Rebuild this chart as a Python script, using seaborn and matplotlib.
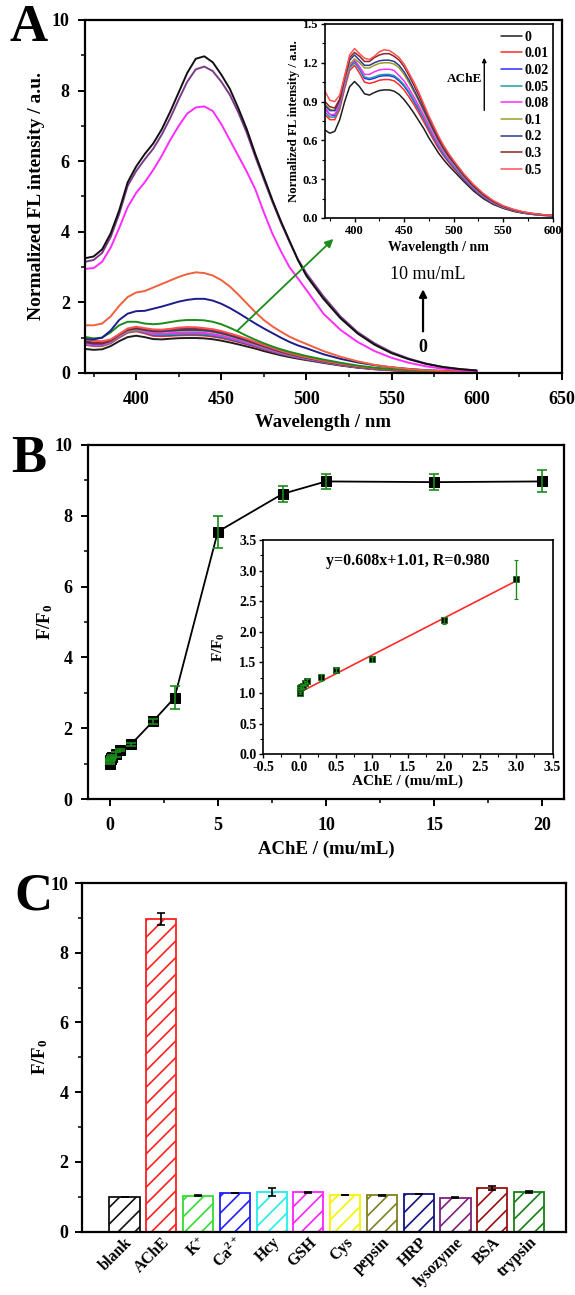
import numpy as np
import pandas as pd
import matplotlib
matplotlib.use('Agg')
import matplotlib.pyplot as plt
import seaborn as sns
from matplotlib.ticker import MultipleLocator, FormatStrFormatter

# ---------------- data ----------------
# Panel A: emission spectra
wavelength = [370, 375, 380, 385, 390, 395, 400, 405, 410, 415, 420, 425, 430, 435, 440, 445,
              450, 455, 460, 465, 470, 475, 480, 485, 490, 495, 500, 510, 520, 530, 540, 550,
              560, 570, 580, 590, 600]

spec_0 = [0.68, 0.655, 0.67, 0.76, 0.90, 1.015, 1.055, 1.015, 0.96, 0.95, 0.97, 0.985, 0.99, 0.99, 0.98, 0.955,
          0.915, 0.865, 0.81, 0.75, 0.69, 0.62, 0.56, 0.5, 0.45, 0.405, 0.365, 0.285, 0.21, 0.15, 0.105, 0.075,
          0.052, 0.037, 0.027, 0.02, 0.016]
spec_001 = [0.80, 0.76, 0.76, 0.84, 1.0, 1.14, 1.18, 1.12, 1.05, 1.04, 1.05, 1.065, 1.07, 1.07, 1.06, 1.03,
            0.99, 0.935, 0.875, 0.81, 0.74, 0.67, 0.6, 0.535, 0.48, 0.43, 0.385, 0.3, 0.222, 0.16, 0.112, 0.08,
            0.056, 0.04, 0.029, 0.021, 0.017]
spec_002 = [0.85, 0.8, 0.79, 0.87, 1.03, 1.17, 1.21, 1.15, 1.08, 1.07, 1.08, 1.095, 1.1, 1.1, 1.09, 1.06,
            1.02, 0.965, 0.9, 0.835, 0.765, 0.69, 0.62, 0.55, 0.49, 0.44, 0.395, 0.305, 0.226, 0.163, 0.115, 0.082,
            0.058, 0.041, 0.03, 0.022, 0.017]
spec_005 = [0.82, 0.78, 0.78, 0.86, 1.02, 1.16, 1.2, 1.15, 1.09, 1.08, 1.09, 1.105, 1.11, 1.11, 1.1, 1.07,
            1.03, 0.975, 0.91, 0.845, 0.77, 0.695, 0.625, 0.555, 0.495, 0.445, 0.4, 0.31, 0.23, 0.166, 0.117, 0.083,
            0.059, 0.042, 0.03, 0.022, 0.018]
spec_008 = [0.84, 0.8, 0.8, 0.88, 1.04, 1.18, 1.22, 1.17, 1.11, 1.11, 1.13, 1.145, 1.15, 1.15, 1.14, 1.1,
            1.06, 1.0, 0.935, 0.865, 0.79, 0.715, 0.64, 0.57, 0.51, 0.455, 0.41, 0.318, 0.236, 0.17, 0.12, 0.085,
            0.06, 0.043, 0.031, 0.023, 0.018]
spec_01 = [0.88, 0.84, 0.83, 0.9, 1.06, 1.19, 1.23, 1.2, 1.16, 1.16, 1.18, 1.195, 1.2, 1.2, 1.19, 1.16,
           1.11, 1.045, 0.975, 0.9, 0.82, 0.74, 0.665, 0.59, 0.525, 0.47, 0.42, 0.325, 0.242, 0.175, 0.124, 0.087,
           0.062, 0.044, 0.032, 0.024, 0.018]
spec_02 = [0.87, 0.83, 0.83, 0.91, 1.08, 1.22, 1.26, 1.22, 1.18, 1.18, 1.2, 1.215, 1.22, 1.22, 1.21, 1.18,
           1.13, 1.065, 0.99, 0.915, 0.835, 0.755, 0.675, 0.6, 0.535, 0.478, 0.428, 0.33, 0.246, 0.178, 0.126, 0.089,
           0.063, 0.045, 0.033, 0.024, 0.019]
spec_03 = [0.9, 0.86, 0.85, 0.92, 1.09, 1.24, 1.28, 1.25, 1.21, 1.21, 1.24, 1.26, 1.27, 1.27, 1.25, 1.22,
           1.17, 1.1, 1.025, 0.945, 0.86, 0.775, 0.695, 0.615, 0.548, 0.49, 0.437, 0.338, 0.252, 0.183, 0.13, 0.092,
           0.065, 0.046, 0.034, 0.025, 0.019]
spec_05 = [0.98, 0.91, 0.9, 0.95, 1.1, 1.26, 1.31, 1.27, 1.235, 1.225, 1.25, 1.285, 1.3, 1.295, 1.27, 1.24,
           1.19, 1.12, 1.05, 0.97, 0.88, 0.79, 0.71, 0.63, 0.56, 0.5, 0.445, 0.345, 0.26, 0.19, 0.135, 0.095,
           0.068, 0.048, 0.035, 0.026, 0.02]
spec_1 = [1.02, 0.98, 1.0, 1.15, 1.35, 1.45, 1.45, 1.4, 1.38, 1.4, 1.44, 1.48, 1.5, 1.5, 1.49, 1.45,
          1.38, 1.28, 1.17, 1.05, 0.94, 0.84, 0.75, 0.67, 0.6, 0.54, 0.48, 0.38, 0.29, 0.21, 0.15, 0.11,
          0.08, 0.055, 0.04, 0.03, 0.025]
spec_2 = [0.95, 0.95, 1.0, 1.2, 1.5, 1.68, 1.75, 1.76, 1.82, 1.88, 1.95, 2.02, 2.07, 2.1, 2.1, 2.05,
          1.96, 1.84, 1.7, 1.55, 1.4, 1.26, 1.13, 1.0, 0.88, 0.78, 0.7, 0.53, 0.4, 0.3, 0.22, 0.16,
          0.115, 0.08, 0.06, 0.045, 0.035]
spec_3 = [1.35, 1.35, 1.4, 1.6, 1.9, 2.15, 2.28, 2.32, 2.42, 2.52, 2.62, 2.72, 2.8, 2.85, 2.83, 2.76,
          2.63, 2.45, 2.22, 1.97, 1.72, 1.5, 1.32, 1.17, 1.03, 0.92, 0.82, 0.62, 0.46, 0.33, 0.23, 0.16,
          0.11, 0.075, 0.055, 0.04, 0.03]
spec_5 = [2.95, 2.97, 3.15, 3.55, 4.1, 4.7, 5.1, 5.4, 5.75, 6.15, 6.6, 7.0, 7.35, 7.52, 7.55, 7.42,
          7.05, 6.6, 6.15, 5.7, 5.2, 4.55, 3.95, 3.45, 3.0, 2.68, 2.35, 1.68, 1.22, 0.88, 0.62, 0.43,
          0.29, 0.19, 0.12, 0.08, 0.05]
spec_8 = [3.15, 3.2, 3.4, 3.85, 4.5, 5.3, 5.72, 6.05, 6.35, 6.75, 7.22, 7.75, 8.25, 8.6, 8.68, 8.55,
          8.25, 7.88, 7.38, 6.8, 6.12, 5.48, 4.85, 4.26, 3.72, 3.22, 2.82, 2.17, 1.6, 1.16, 0.84, 0.59,
          0.41, 0.27, 0.17, 0.11, 0.07]
spec_10 = [3.25, 3.3, 3.5, 3.95, 4.6, 5.4, 5.85, 6.2, 6.5, 6.9, 7.4, 7.95, 8.5, 8.9, 8.97, 8.8,
           8.45, 8.05, 7.5, 6.9, 6.2, 5.55, 4.9, 4.3, 3.75, 3.2, 2.75, 2.1, 1.55, 1.12, 0.8, 0.56,
           0.39, 0.26, 0.17, 0.11, 0.07]

low_labels = ['0', '0.01', '0.02', '0.05', '0.08', '0.1', '0.2', '0.3', '0.5']
high_labels = ['1', '2', '3', '5', '8', '10']
low_colors = ['#1e1e1e', '#ff2a2a', '#2b2bff', '#1c9c9c', '#ff2cff', '#9c9c2c', '#2e3a8e', '#8e2424', '#ff5252']
high_colors = ['#1a8c1a', '#1c1c8c', '#f0603c', '#ff2cff', '#7c3a8a', '#111111']

# Panel B: F/F0 vs AChE concentration
ache_conc = [0, 0.01, 0.02, 0.05, 0.08, 0.1, 0.3, 0.5, 1, 2, 3, 5, 8, 10, 15, 20]
ratio = [1.0, 1.08, 1.1, 1.12, 1.16, 1.2, 1.26, 1.38, 1.55, 2.19, 2.86, 7.55, 8.62, 8.97, 8.95, 8.97]
ratio_err = [0.02, 0.02, 0.03, 0.03, 0.03, 0.03, 0.06, 0.03, 0.04, 0.06, 0.32, 0.45, 0.23, 0.22, 0.23, 0.31]
fit_slope = 0.608
fit_intercept = 1.01

# Panel C: selectivity
species = ['blank', 'AChE', 'K$^{+}$', 'Ca$^{2+}$', 'Hcy', 'GSH', 'Cys', 'pepsin', 'HRP',
           'lysozyme', 'BSA', 'trypsin']
species_ratio = [1.0, 8.97, 1.03, 1.11, 1.14, 1.13, 1.05, 1.035, 1.07, 0.97, 1.25, 1.14]
species_err = [0.0, 0.17, 0.01, 0.01, 0.12, 0.01, 0.01, 0.005, 0.005, 0.01, 0.05, 0.02]
species_colors = ['#111111', '#ff2020', '#33dd33', '#2020ff', '#22eeee', '#ff22ff', '#f5f500',
                  '#808020', '#141480', '#802080', '#9a1010', '#168016']

# ---------------- style ----------------
sns.set_style('ticks')
plt.rcParams.update({
    'font.family': ['Liberation Serif', 'DejaVu Serif'],
    'font.weight': 'bold',
    'axes.labelweight': 'bold',
    'axes.edgecolor': 'black',
    'axes.labelcolor': 'black',
    'text.color': 'black',
    'xtick.color': 'black',
    'ytick.color': 'black',
    'axes.linewidth': 1.6,
    'xtick.major.width': 1.4, 'ytick.major.width': 1.4,
    'xtick.minor.width': 1.1, 'ytick.minor.width': 1.1,
    'xtick.major.size': 5, 'ytick.major.size': 5,
    'xtick.minor.size': 3, 'ytick.minor.size': 3,
    'xtick.direction': 'out', 'ytick.direction': 'out',
    'mathtext.fontset': 'custom',
    'mathtext.rm': 'Liberation Serif:bold',
    'mathtext.it': 'Liberation Serif:bold',
    'mathtext.bf': 'Liberation Serif:bold',
    'hatch.linewidth': 1.2,
})

fig = plt.figure(figsize=(5.75, 12.95), dpi=100)

# ---------------- Panel A ----------------
spectra = dict(zip(low_labels + high_labels,
                   [spec_0, spec_001, spec_002, spec_005, spec_008, spec_01, spec_02, spec_03, spec_05,
                    spec_1, spec_2, spec_3, spec_5, spec_8, spec_10]))
rows = []
for conc, vals in spectra.items():
    for w, v in zip(wavelength, vals):
        rows.append((w, v, conc))
spec_df = pd.DataFrame(rows, columns=['wl', 'I', 'conc'])

axA = fig.add_axes([0.148, 0.712, 0.829, 0.2726])
sns.lineplot(data=spec_df, x='wl', y='I', hue='conc', hue_order=low_labels + high_labels,
             palette=low_colors + high_colors, linewidth=1.4, errorbar=None, legend=False, ax=axA)
axA.set_xlim(370, 650)
axA.set_ylim(0, 10)
axA.xaxis.set_major_locator(MultipleLocator(50))
axA.xaxis.set_minor_locator(MultipleLocator(25))
axA.yaxis.set_major_locator(MultipleLocator(2))
axA.yaxis.set_minor_locator(MultipleLocator(1))
axA.tick_params(labelsize=13)
axA.tick_params(axis='x', pad=8)
axA.tick_params(axis='y', pad=6)
axA.set_xlabel('Wavelength / nm', fontsize=13.5, labelpad=4)
axA.set_ylabel('Normalized FL intensity / a.u.', fontsize=14, labelpad=5)
axA.annotate('', xy=(517, 3.85), xytext=(458, 1.13),
             arrowprops=dict(arrowstyle='-|>', color='#1a8c1a', lw=1.3, mutation_scale=12))
axA.annotate('', xy=(568.5, 2.45), xytext=(568.5, 1.1),
             arrowprops=dict(arrowstyle='-|>', color='black', lw=1.6, mutation_scale=11))
axA.text(571, 2.8, '10 mu/mL', ha='center', va='center', fontsize=13, fontweight='normal')
axA.text(568.5, 0.72, '0', ha='center', va='center', fontsize=13)

# inset of A
axI = fig.add_axes([0.565, 0.8317, 0.396, 0.1498])
sns.lineplot(data=spec_df[spec_df['conc'].isin(low_labels)], x='wl', y='I', hue='conc',
             hue_order=low_labels, palette=low_colors, linewidth=1.1, errorbar=None, ax=axI)
axI.set_xlim(370, 600)
axI.set_ylim(0, 1.5)
axI.xaxis.set_major_locator(MultipleLocator(50))
axI.xaxis.set_minor_locator(MultipleLocator(25))
axI.yaxis.set_major_locator(MultipleLocator(0.3))
axI.yaxis.set_minor_locator(MultipleLocator(0.15))
axI.yaxis.set_major_formatter(FormatStrFormatter('%.1f'))
axI.tick_params(labelsize=9, pad=2)
axI.tick_params(which='major', length=3, width=1.0)
axI.tick_params(which='minor', length=2, width=0.8)
for sp in axI.spines.values():
    sp.set_linewidth(1.2)
axI.set_xlabel('Wavelength / nm', fontsize=10, labelpad=3)
axI.set_ylabel('Normalized FL intensity / a.u.', fontsize=9.2, labelpad=2)
handles, labels = axI.get_legend_handles_labels()
axI.legend(handles, labels, frameon=False, loc='upper left', bbox_to_anchor=(0.775, 0.965),
           fontsize=10, handlelength=1.5, handletextpad=0.15, labelspacing=0.26,
           borderpad=0, borderaxespad=0)
axI.annotate('', xy=(0.70, 0.84), xytext=(0.70, 0.54), xycoords='axes fraction',
             arrowprops=dict(arrowstyle='-|>', color='black', lw=1.0, mutation_scale=6))
axI.text(0.69, 0.716, 'AChE', transform=axI.transAxes, ha='right', va='center', fontsize=9.5)

# ---------------- Panel B ----------------
axB = fig.add_axes([0.153, 0.383, 0.828, 0.2734])
sns.lineplot(x=ache_conc, y=ratio, color='black', linewidth=1.3, marker='s', markersize=6.5,
             markeredgecolor='black', errorbar=None, ax=axB)
axB.errorbar(ache_conc, ratio, yerr=ratio_err, fmt='none', ecolor='#1a8c1a', elinewidth=1.2,
             capsize=3.5, capthick=1.2, zorder=4)
axB.set_xlim(-1, 21)
axB.set_ylim(0, 10)
axB.xaxis.set_major_locator(MultipleLocator(5))
axB.xaxis.set_minor_locator(MultipleLocator(2.5))
axB.yaxis.set_major_locator(MultipleLocator(2))
axB.yaxis.set_minor_locator(MultipleLocator(1))
axB.tick_params(labelsize=13)
axB.tick_params(axis='x', pad=8)
axB.tick_params(axis='y', pad=6)
axB.set_xlabel('AChE / (mu/mL)', fontsize=13.5, labelpad=5)
axB.set_ylabel('F/F$_0$', fontsize=13.5, labelpad=0)

# inset of B
lin_x = [c for c in ache_conc if c <= 3]
lin_y = ratio[:len(lin_x)]
lin_err = ratio_err[:len(lin_x)]
fit_x = np.array([min(lin_x), max(lin_x)])
axJ = fig.add_axes([0.458, 0.4175, 0.503, 0.1655])
sns.lineplot(x=fit_x, y=fit_slope * fit_x + fit_intercept, color='#ff2a2a', linewidth=1.2, ax=axJ)
sns.scatterplot(x=lin_x, y=lin_y, marker='s', s=16, color='black', edgecolor='#1a6a1a',
                linewidth=0.6, zorder=3, ax=axJ)
axJ.errorbar(lin_x, lin_y, yerr=lin_err, fmt='none', ecolor='#1a8c1a', elinewidth=1.0,
             capsize=1.5, capthick=0.8, zorder=4)
axJ.set_xlim(-0.5, 3.5)
axJ.set_ylim(0, 3.5)
axJ.xaxis.set_major_locator(MultipleLocator(0.5))
axJ.xaxis.set_minor_locator(MultipleLocator(0.25))
axJ.yaxis.set_major_locator(MultipleLocator(0.5))
axJ.yaxis.set_minor_locator(MultipleLocator(0.25))
axJ.xaxis.set_major_formatter(FormatStrFormatter('%.1f'))
axJ.yaxis.set_major_formatter(FormatStrFormatter('%.1f'))
axJ.tick_params(labelsize=10, pad=2)
axJ.tick_params(which='major', length=3, width=1.0)
axJ.tick_params(which='minor', length=2, width=0.8)
for sp in axJ.spines.values():
    sp.set_linewidth(1.2)
axJ.set_xlabel('AChE / (mu/mL)', fontsize=11, labelpad=0)
axJ.set_ylabel('F/F$_0$', fontsize=11, labelpad=9)
axJ.text(0.5, 0.9, 'y=0.608x+1.01, R=0.980', transform=axJ.transAxes, ha='center', va='center',
         fontsize=11.5)

# ---------------- Panel C ----------------
axC = fig.add_axes([0.143, 0.049, 0.841, 0.2691])
sns.barplot(x=species, y=species_ratio, hue=species, palette=species_colors, legend=False,
            width=0.82, saturation=1, ax=axC)
for patch, col in zip(axC.patches, species_colors):
    patch.set_facecolor('white')
    patch.set_edgecolor(col)
    patch.set_hatch('//')
    patch.set_linewidth(1.3)
axC.errorbar(range(len(species)), species_ratio, yerr=species_err, fmt='none', ecolor='black',
             elinewidth=1.2, capsize=3, capthick=1.2)
axC.set_xlim(-1.15, 12)
axC.set_ylim(0, 10)
axC.yaxis.set_major_locator(MultipleLocator(2))
axC.yaxis.set_minor_locator(MultipleLocator(1))
axC.tick_params(axis='y', labelsize=13, pad=5)
axC.tick_params(axis='x', length=0, labelsize=11.5, pad=2)
plt.setp(axC.get_xticklabels(), rotation=45, ha='right', rotation_mode='anchor')
axC.set_xlabel('')
axC.set_ylabel('F/F$_0$', fontsize=13.5, labelpad=0)

# panel letters
fig.text(0.017, 0.997, 'A', fontsize=38, fontweight='bold', va='top', ha='left')
fig.text(0.020, 0.664, 'B', fontsize=38, fontweight='bold', va='top', ha='left')
fig.text(0.025, 0.326, 'C', fontsize=38, fontweight='bold', va='top', ha='left')

fig.savefig('out.png', dpi=100)
